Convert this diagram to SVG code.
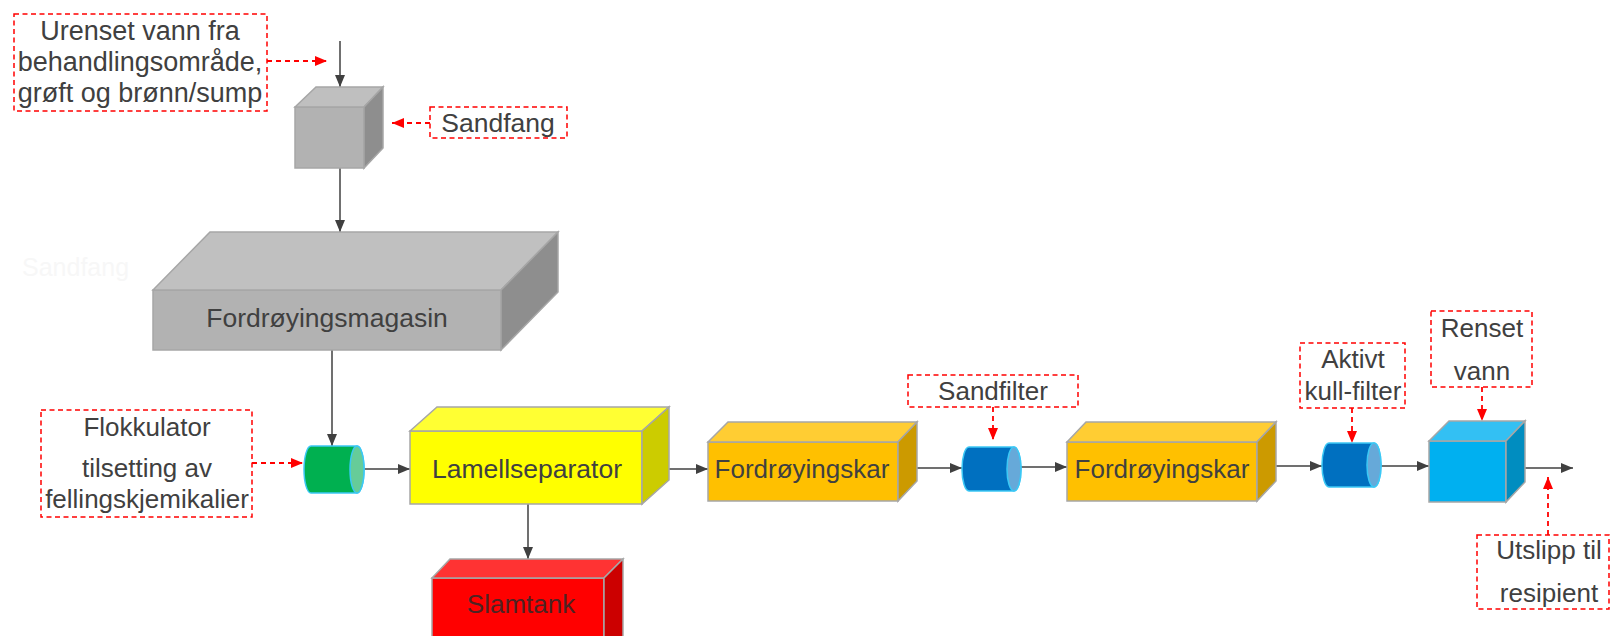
<svg xmlns="http://www.w3.org/2000/svg" width="1611" height="636" viewBox="0 0 1611 636">
<style>
.t{font-family:"Liberation Sans",Arial,sans-serif;font-size:26px;fill:#404040;text-anchor:middle}
.lbl{fill:none;stroke:#ff0000;stroke-width:1.5;stroke-dasharray:5 3.5}
.note{fill:none;stroke:#ff0000;stroke-width:1.8;stroke-dasharray:5 4;marker-end:url(#ar)}
.flow{fill:none;stroke:#404040;stroke-width:1.5;marker-end:url(#ab)}
.edge{stroke:#a6a6a6;stroke-width:1.5}
.cyl{stroke:#3cc8f5;stroke-width:1.5}
</style>
<defs>
<marker id="ab" markerUnits="userSpaceOnUse" markerWidth="12" markerHeight="10" viewBox="0 0 12 10" refX="12" refY="5" orient="auto"><path d="M0,0 L12,5 L0,10 Z" fill="#404040"/></marker>
<marker id="ar" markerUnits="userSpaceOnUse" markerWidth="12" markerHeight="10" viewBox="0 0 12 10" refX="12" refY="5" orient="auto"><path d="M0,0 L12,5 L0,10 Z" fill="#ff0000"/></marker>
</defs>
<rect width="1611" height="636" fill="#ffffff"/>
<text x="22" y="276" style="font-family:'Liberation Sans',Arial,sans-serif;font-size:25px;fill:#f7f7f7">Sandfang</text>

<g id="connectors">
<line class="flow" x1="340" y1="41" x2="340" y2="87"/>
<line class="flow" x1="340" y1="168" x2="340" y2="232"/>
<line class="flow" x1="332" y1="350" x2="332" y2="446"/>
<line class="flow" x1="364" y1="469" x2="410" y2="469"/>
<line class="flow" x1="528" y1="504" x2="528" y2="559"/>
<line class="flow" x1="656" y1="469" x2="708" y2="469"/>
<line class="flow" x1="910" y1="468" x2="962" y2="468"/>
<line class="flow" x1="1013" y1="467" x2="1067" y2="467"/>
<line class="flow" x1="1270" y1="466" x2="1322" y2="466"/>
<line class="flow" x1="1377" y1="466" x2="1429" y2="466"/>
<line class="flow" x1="1520" y1="468" x2="1573" y2="468"/>
<line class="note" x1="267" y1="61" x2="327" y2="61"/>
<line class="note" x1="430" y1="123" x2="392" y2="123"/>
<line class="note" x1="252" y1="463" x2="303" y2="463"/>
<line class="note" x1="993" y1="407" x2="993" y2="440"/>
<line class="note" x1="1352" y1="408" x2="1352" y2="443"/>
<line class="note" x1="1482" y1="387" x2="1482" y2="421"/>
<line class="note" x1="1548" y1="535" x2="1548" y2="477"/>
</g>

<g id="label-urenset">
<rect class="lbl" x="14" y="14" width="253" height="97"/>
<text class="t" x="140" y="40" style="font-size:27px">Urenset vann fra</text>
<text class="t" x="140" y="71" style="font-size:27px">behandlingsområde,</text>
<text class="t" x="140" y="102" style="font-size:27px">grøft og brønn/sump</text>
</g>

<g id="sandfang">
<polygon class="edge" points="295,107 364,107 364,168 295,168" fill="#b2b2b2"/>
<polygon class="edge" points="295,107 316,87 383,87 364,107" fill="#bfbfbf"/>
<polygon class="edge" points="364,107 383,87 383,148 364,168" fill="#8e8e8e"/>
</g>

<g id="label-sandfang">
<rect class="lbl" x="430" y="107" width="137" height="31"/>
<text class="t" x="498" y="132" style="font-size:26.5px">Sandfang</text>
</g>

<g id="fordroyingsmagasin">
<polygon class="edge" points="153,290 501,290 501,350 153,350" fill="#b2b2b2"/>
<polygon class="edge" points="153,290 210,232 558,232 501,290" fill="#c0c0c0"/>
<polygon class="edge" points="501,290 558,232 558,292 501,350" fill="#8e8e8e"/>
<text class="t" x="327" y="327" style="font-size:26.5px">Fordrøyingsmagasin</text>
</g>

<g id="label-flokkulator">
<rect class="lbl" x="41" y="410" width="211" height="107"/>
<text class="t" x="147" y="436">Flokkulator</text>
<text class="t" x="147" y="477">tilsetting av</text>
<text class="t" x="147" y="508">fellingskjemikalier</text>
</g>

<g id="flokkulator">
<path class="cyl" d="M311,446 H357 A7,23.5 0 0 1 357,493 H311 A7,23.5 0 0 1 311,446 Z" fill="#00b050"/>
<ellipse class="cyl" cx="357" cy="469.5" rx="7" ry="23.5" fill="#66cc99"/>
</g>

<g id="lamellseparator">
<polygon class="edge" points="410,431 642,431 642,504 410,504" fill="#ffff00"/>
<polygon class="edge" points="410,431 437,407 669,407 642,431" fill="#ffff33"/>
<polygon class="edge" points="642,431 669,407 669,480 642,504" fill="#cccc00"/>
<text class="t" x="527" y="478" style="font-size:26.5px">Lamellseparator</text>
</g>

<g id="slamtank">
<polygon class="edge" points="432,578 604,578 604,640 432,640" fill="#ff0000"/>
<polygon class="edge" points="432,578 450,559 623,559 604,578" fill="#ff3333"/>
<polygon class="edge" points="604,578 623,559 623,640 604,640" fill="#cc0000"/>
<text class="t" x="521" y="613" style="fill:#4d2323">Slamtank</text>
</g>

<g id="fordroyingskar1">
<polygon class="edge" points="708,442 898,442 898,501 708,501" fill="#ffc000"/>
<polygon class="edge" points="708,442 728,422 917,422 898,442" fill="#ffcd33"/>
<polygon class="edge" points="898,442 917,422 917,481 898,501" fill="#cc9a00"/>
<text class="t" x="802" y="478">Fordrøyingskar</text>
</g>

<g id="label-sandfilter">
<rect class="lbl" x="908" y="375" width="170" height="32"/>
<text class="t" x="993" y="400">Sandfilter</text>
</g>

<g id="sandfilter">
<path class="cyl" d="M969,447 H1014 A7,22 0 0 1 1014,491 H969 A7,22 0 0 1 969,447 Z" fill="#0070c0"/>
<ellipse class="cyl" cx="1014" cy="469" rx="7" ry="22" fill="#66a9d9"/>
</g>

<g id="fordroyingskar2">
<polygon class="edge" points="1067,442 1257,442 1257,501 1067,501" fill="#ffc000"/>
<polygon class="edge" points="1067,442 1086,422 1276,422 1257,442" fill="#ffcd33"/>
<polygon class="edge" points="1257,442 1276,422 1276,481 1257,501" fill="#cc9a00"/>
<text class="t" x="1162" y="478">Fordrøyingskar</text>
</g>

<g id="label-aktivt">
<rect class="lbl" x="1300" y="343" width="105" height="65"/>
<text class="t" x="1353" y="368">Aktivt</text>
<text class="t" x="1353" y="400">kull-filter</text>
</g>

<g id="kullfilter">
<path class="cyl" d="M1329,443 H1374 A7,22 0 0 1 1374,487 H1329 A7,22 0 0 1 1329,443 Z" fill="#0070c0"/>
<ellipse class="cyl" cx="1374" cy="465" rx="7" ry="22" fill="#66a9d9"/>
</g>

<g id="label-renset">
<rect class="lbl" x="1431" y="311" width="101" height="76"/>
<text class="t" x="1482" y="337">Renset</text>
<text class="t" x="1482" y="380">vann</text>
</g>

<g id="renset-vann">
<polygon class="edge" points="1429,441 1506,441 1506,502 1429,502" fill="#00b0f0"/>
<polygon class="edge" points="1429,441 1449,421 1525,421 1506,441" fill="#33c0f3"/>
<polygon class="edge" points="1506,441 1525,421 1525,482 1506,502" fill="#008dc0"/>
</g>

<g id="label-utslipp">
<rect class="lbl" x="1477" y="535" width="132" height="74"/>
<text class="t" x="1549" y="559">Utslipp til</text>
<text class="t" x="1549" y="602">resipient</text>
</g>
</svg>
